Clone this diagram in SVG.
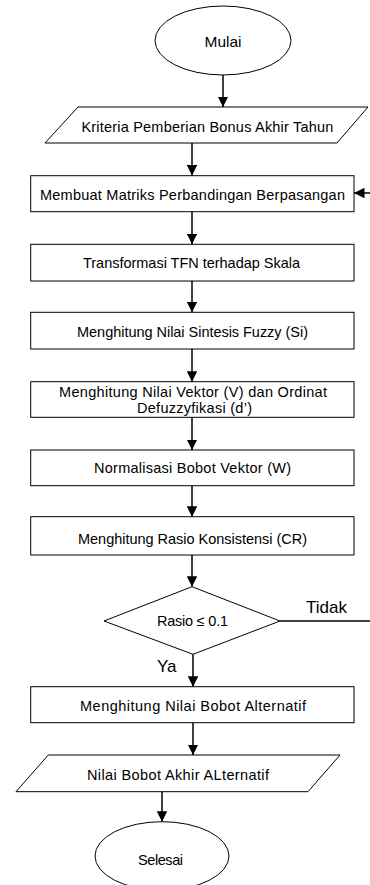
<svg xmlns="http://www.w3.org/2000/svg" width="370" height="885" viewBox="0 0 370 885">
<style>
.s{fill:#fff;stroke:#000;stroke-width:1}
.t{font-family:"Liberation Sans",Arial,sans-serif;font-size:14.5px;fill:#000;text-anchor:middle;dominant-baseline:central}
.l{font-family:"Liberation Sans",Arial,sans-serif;font-size:17px;fill:#000}
.c{fill:none;stroke:#000;stroke-width:1.5}
</style>
<defs>
<marker id="a" viewBox="0 0 10 10" refX="10" refY="5" markerWidth="7" markerHeight="7" markerUnits="strokeWidth" orient="auto">
<path d="M0,0 L10,5 L0,10 z" fill="#000"/>
</marker>
</defs>
<g id="connectors">
<path class="c" d="M223,75 V107" marker-end="url(#a)"/>
<path class="c" d="M192,143 V175.5" marker-end="url(#a)"/>
<path class="c" d="M192,211.7 V244.3" marker-end="url(#a)"/>
<path class="c" d="M192,281 V312.3" marker-end="url(#a)"/>
<path class="c" d="M192,349 V381.7" marker-end="url(#a)"/>
<path class="c" d="M192,417.3 V450" marker-end="url(#a)"/>
<path class="c" d="M192,485.7 V516.7" marker-end="url(#a)"/>
<path class="c" d="M192,555 V586.7" marker-end="url(#a)"/>
<path class="c" d="M193,654.3 V686.7" marker-end="url(#a)"/>
<path class="c" d="M193,722.7 V755" marker-end="url(#a)"/>
<path class="c" d="M162,791.7 V821.7" marker-end="url(#a)"/>
<path class="c" d="M280,621 H374 V193 H354" marker-end="url(#a)"/>
<text class="l" x="306" y="613">Tidak</text>
<text class="l" x="157" y="672">Ya</text>
</g>
<g id="mulai">
<ellipse class="s" cx="223" cy="40.5" rx="68" ry="34.5"/>
<text class="t" x="223" y="42" textLength="37" lengthAdjust="spacingAndGlyphs">Mulai</text>
</g>
<g id="kriteria">
<polygon class="s" points="78,107 368,107 337,143 45,143"/>
<text class="t" x="207.4" y="127" textLength="252">Kriteria Pemberian Bonus Akhir Tahun</text>
</g>
<g id="matriks">
<rect class="s" x="30.7" y="175.7" width="323.3" height="36"/>
<text class="t" x="192.5" y="195" textLength="305">Membuat Matriks Perbandingan Berpasangan</text>
</g>
<g id="tfn">
<rect class="s" x="30.7" y="244.3" width="323.3" height="36.7"/>
<text class="t" x="191.5" y="263" textLength="217">Transformasi TFN terhadap Skala</text>
</g>
<g id="sintesis">
<rect class="s" x="30.7" y="312.3" width="323.3" height="36.7"/>
<text class="t" x="192.5" y="331.5" textLength="231">Menghitung Nilai Sintesis Fuzzy (Si)</text>
</g>
<g id="vektor">
<rect class="s" x="30.7" y="381.7" width="323.3" height="35.6"/>
<text class="t" x="193" y="391.5" textLength="268">Menghitung Nilai Vektor (V) dan Ordinat</text>
<text class="t" x="194.5" y="408" textLength="115">Defuzzyfikasi (d’)</text>
</g>
<g id="normalisasi">
<rect class="s" x="30.7" y="450" width="323.3" height="35.7"/>
<text class="t" x="192.5" y="468" textLength="197">Normalisasi Bobot Vektor (W)</text>
</g>
<g id="rasio-konsistensi">
<rect class="s" x="30.7" y="516.7" width="323.3" height="38.3"/>
<text class="t" x="192.5" y="539" textLength="229">Menghitung Rasio Konsistensi (CR)</text>
</g>
<g id="keputusan">
<polygon class="s" points="192,586.7 280,621 193,654.3 104,621"/>
<text class="t" x="192.5" y="621" textLength="71">Rasio ≤ 0.1</text>
</g>
<g id="bobot-alternatif">
<rect class="s" x="30.7" y="686.7" width="323.3" height="36"/>
<text class="t" x="193" y="706" textLength="226">Menghitung Nilai Bobot Alternatif</text>
</g>
<g id="bobot-akhir">
<polygon class="s" points="48.3,755 340,755 308,791.7 16,791.7"/>
<text class="t" x="178" y="775" textLength="182">Nilai Bobot Akhir ALternatif</text>
</g>
<g id="selesai">
<ellipse class="s" cx="162" cy="856" rx="67" ry="34.3"/>
<text class="t" x="160.5" y="860" textLength="45">Selesai</text>
</g>
</svg>
